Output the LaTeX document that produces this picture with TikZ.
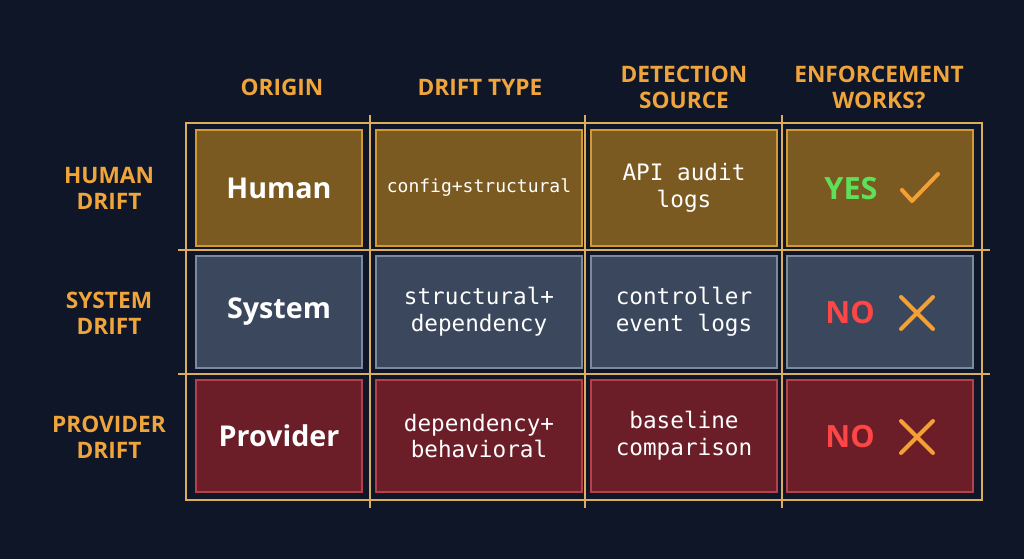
\documentclass[tikz,border=0pt]{standalone}
\usepackage{fontspec}
\setmainfont{Open Sans}
\newfontfamily\monof{DejaVu Sans Mono}
\begin{document}
\begin{tikzpicture}[x=0.75pt,y=-0.75pt,
 hdr/.style={text=hdrc,font=\bfseries\fontsize{17}{19.5}\selectfont,align=center},
 cellbase/.style={draw,line width=1.2pt,inner sep=0pt},
 hum/.style={cellbase,fill=humf,draw=humd},
 sys/.style={cellbase,fill=sysf,draw=sysd},
 pro/.style={cellbase,fill=prof,draw=prod},
 big/.style={text=white,font=\bfseries\fontsize{21.5}{24}\selectfont},
 mono/.style={text=white,font=\monof\fontsize{17}{20}\selectfont,align=center},
 frame/.style={draw=humd!80,line width=0.8pt}]
\definecolor{bg}{HTML}{0E1627}
\definecolor{hdrc}{HTML}{F0A43C}
\definecolor{humf}{HTML}{7A5A20}
\definecolor{humd}{HTML}{D29A34}
\definecolor{sysf}{HTML}{3B475C}
\definecolor{sysd}{HTML}{7C8AA0}
\definecolor{prof}{HTML}{6B1E28}
\definecolor{prod}{HTML}{B8404A}
\definecolor{yesc}{HTML}{5EE05A}
\definecolor{noc}{HTML}{FF4646}
\definecolor{markc}{HTML}{F5A034}
\fill[bg] (0,0) rectangle (1024,559);
\useasboundingbox (0,0) rectangle (1024,559);
% frame grid
\draw[frame] (186,123) rectangle (982,500);
\foreach \x in {370,585,782} \draw[frame] (\x,115) -- (\x,508);
\foreach \y in {250,374} \draw[frame] (178,\y) -- (990,\y);
% headers
\node[hdr] (h1) at (282,87) {ORIGIN};
\node[hdr] (h2) at (480,87) {DRIFT TYPE};
\node[hdr] (h3) at (684,87) {DETECTION\\SOURCE};
\node[hdr] (h4) at (879,87) {ENFORCEMENT\\WORKS?};
\node[hdr] (r1) at (109,188) {HUMAN\\DRIFT};
\node[hdr] (r2) at (109,313) {SYSTEM\\DRIFT};
\node[hdr] (r3) at (109,437) {PROVIDER\\DRIFT};
% row 1
\node[hum,minimum width=124.5pt,minimum height=87pt] (a1) at (279,188) {};
\node[hum,minimum width=154.5pt,minimum height=87pt] (b1) at (479,188) {};
\node[hum,minimum width=139.5pt,minimum height=87pt] (c1) at (684,188) {};
\node[hum,minimum width=139.5pt,minimum height=87pt] (d1) at (880,188) {};
\node[big] at (a1.center) {Human};
\node[mono,font=\monof\fontsize{13.5}{15}\selectfont] at (b1.center) {config+structural};
\node[mono] at (c1.center) {API audit\\logs};
\node[text=yesc,font=\bfseries\fontsize{23}{25}\selectfont] (y1) at (851,189) {YES};
\draw[markc,line width=3pt,line cap=round,line join=round] (902,190) -- (912,201) -- (938,174);
% row 2
\node[sys,minimum width=124.5pt,minimum height=84pt] (a2) at (279,312) {};
\node[sys,minimum width=154.5pt,minimum height=84pt] (b2) at (479,312) {};
\node[sys,minimum width=139.5pt,minimum height=84pt] (c2) at (684,312) {};
\node[sys,minimum width=139.5pt,minimum height=84pt] (d2) at (880,312) {};
\node[big] at (a2.center) {System};
\node[mono] at (b2.center) {structural+\\dependency};
\node[mono] at (c2.center) {controller\\event logs};
\node[text=noc,font=\bfseries\fontsize{23}{25}\selectfont] (n2) at (850,313) {NO};
\draw[markc,line width=3pt,line cap=round] (901,297) -- (933,329) (933,297) -- (901,329);
% row 3
\node[pro,minimum width=124.5pt,minimum height=84pt] (a3) at (279,436) {};
\node[pro,minimum width=154.5pt,minimum height=84pt] (b3) at (479,436) {};
\node[pro,minimum width=139.5pt,minimum height=84pt] (c3) at (684,436) {};
\node[pro,minimum width=139.5pt,minimum height=84pt] (d3) at (880,436) {};
\node[big] at (a3.center) {Provider};
\node[mono] at (b3.center) {dependency+\\behavioral};
\node[mono] at (c3.center) {baseline\\comparison};
\node[text=noc,font=\bfseries\fontsize{23}{25}\selectfont] (n3) at (850,437) {NO};
\draw[markc,line width=3pt,line cap=round] (901,421) -- (933,453) (933,421) -- (901,453);
\end{tikzpicture}
\end{document}
